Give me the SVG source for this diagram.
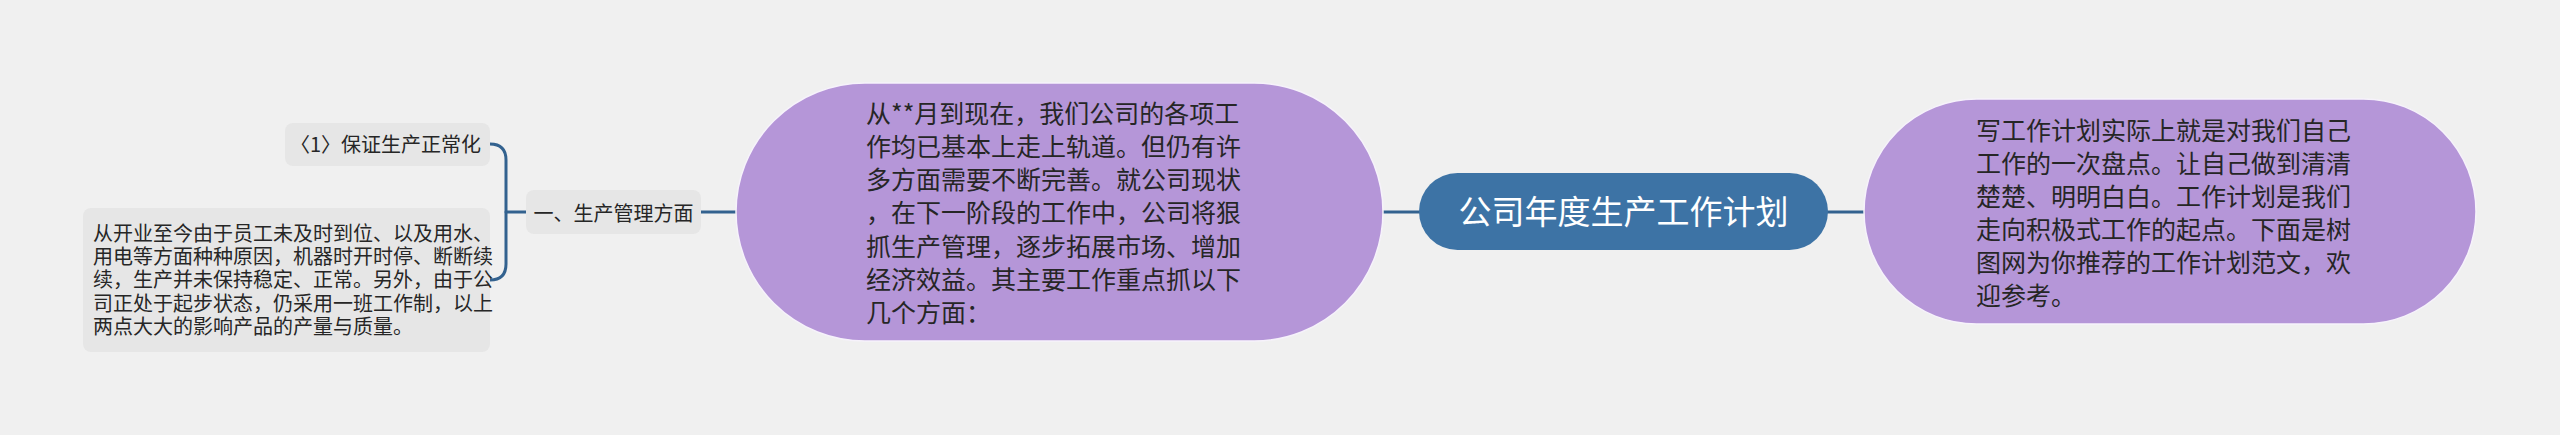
<svg xmlns="http://www.w3.org/2000/svg" width="2560" height="435" viewBox="0 0 2560 435">
<style>
.bg{fill:#f0f0f0}
.leaf{fill:#e6e6e6}
.pill{fill:#b596d8;stroke:#f6f2fb;stroke-width:1.5}
.root{fill:#3d73a5}
.conn{fill:none;stroke:#33628f;stroke-width:3;stroke-linecap:round}
text{font-family:"Noto Sans CJK SC","Noto Sans",sans-serif;fill:#262626}
.s{font-size:20px}
.m{font-size:25px}
.r{font-size:33px;fill:#ffffff}
</style>
<rect class="bg" x="0" y="0" width="2560" height="435"/>
<g id="connectors">
<path class="conn" d="M 490 144 Q 506 144 506 160 L 506 264 Q 506 280 490 280"/>
<path class="conn" d="M 506 212 L 526 212"/>
<path class="conn" d="M 701 212 L 736 212"/>
<path class="conn" d="M 1383 212 L 1419 212"/>
<path class="conn" d="M 1828 212 L 1864 212"/>
</g>
<g id="node-root">
<rect class="root" x="1419" y="173" width="409" height="77" rx="38.5" ry="38.5"/>
<text class="r" x="1623.5" y="224" text-anchor="middle">公司年度生产工作计划</text>
</g>
<g id="node-intro">
<rect class="pill" x="1864" y="99" width="612" height="225" rx="112.5" ry="112.5"/>
<text class="m" x="1976" y="139.5">
<tspan x="1976">写工作计划实际上就是对我们自己</tspan>
<tspan x="1976" dy="33">工作的一次盘点。让自己做到清清</tspan>
<tspan x="1976" dy="33">楚楚、明明白白。工作计划是我们</tspan>
<tspan x="1976" dy="33">走向积极式工作的起点。下面是树</tspan>
<tspan x="1976" dy="33">图网为你推荐的工作计划范文，欢</tspan>
<tspan x="1976" dy="33">迎参考。</tspan>
</text>
</g>
<g id="node-main">
<rect class="pill" x="736" y="83" width="647" height="258" rx="129" ry="129"/>
<text class="m" x="866" y="122.8">
<tspan x="866">从**月到现在，我们公司的各项工</tspan>
<tspan x="866" dy="33.2">作均已基本上走上轨道。但仍有许</tspan>
<tspan x="866" dy="33.2">多方面需要不断完善。就公司现状</tspan>
<tspan x="866" dy="33.2">，在下一阶段的工作中，公司将狠</tspan>
<tspan x="866" dy="33.2">抓生产管理，逐步拓展市场、增加</tspan>
<tspan x="866" dy="33.2">经济效益。其主要工作重点抓以下</tspan>
<tspan x="866" dy="33.2">几个方面：</tspan>
</text>
</g>
<g id="node-production">
<rect class="leaf" x="526" y="190" width="175" height="44" rx="8" ry="8"/>
<text class="s" x="613.5" y="220.5" text-anchor="middle">一、生产管理方面</text>
</g>
<g id="node-normal">
<rect class="leaf" x="285" y="123" width="205" height="43" rx="8" ry="8"/>
<text class="s" x="481" y="152" text-anchor="end">〈1〉保证生产正常化</text>
</g>
<g id="node-detail">
<rect class="leaf" x="83" y="208" width="407" height="144" rx="8" ry="8"/>
<text class="s" x="93" y="241">
<tspan x="93">从开业至今由于员工未及时到位、以及用水、</tspan>
<tspan x="93" dy="23.2">用电等方面种种原因，机器时开时停、断断续</tspan>
<tspan x="93" dy="23.2">续，生产并未保持稳定、正常。另外，由于公</tspan>
<tspan x="93" dy="23.2">司正处于起步状态，仍采用一班工作制，以上</tspan>
<tspan x="93" dy="23.2">两点大大的影响产品的产量与质量。</tspan>
</text>
</g>
</svg>
